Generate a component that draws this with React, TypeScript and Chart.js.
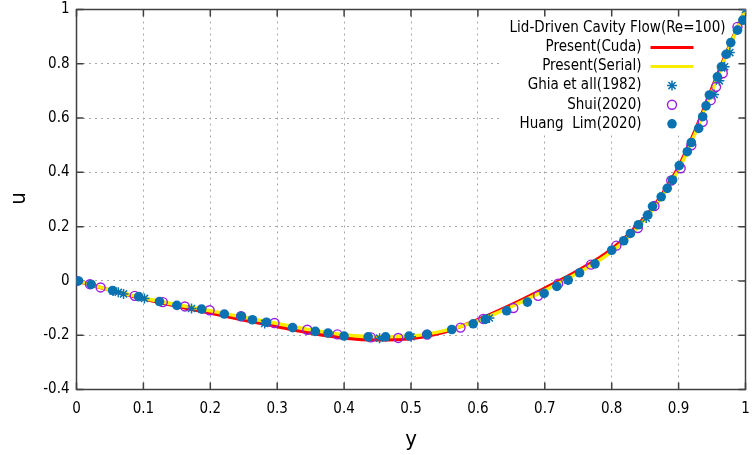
import React, { useEffect, useRef } from 'react';
import { Chart, registerables } from 'chart.js';

Chart.register(...registerables);

// ---- data ----
const lineY = [0, 0.025, 0.05, 0.075, 0.1, 0.15, 0.2, 0.25, 0.3, 0.35, 0.4, 0.45, 0.5, 0.55, 0.6, 0.65, 0.7, 0.75, 0.8, 0.85, 0.875, 0.9, 0.925, 0.95, 0.975, 1];
const cudaU = [0, -0.017, -0.034, -0.05, -0.066, -0.093, -0.118, -0.144, -0.168, -0.192, -0.21, -0.217, -0.212, -0.188, -0.143, -0.088, -0.027, 0.038, 0.117, 0.236, 0.318, 0.42, 0.555, 0.71, 0.86, 1.0];
const serialU = [0, -0.016, -0.033, -0.048, -0.063, -0.088, -0.11, -0.134, -0.157, -0.18, -0.198, -0.206, -0.203, -0.183, -0.147, -0.095, -0.035, 0.03, 0.108, 0.228, 0.31, 0.41, 0.545, 0.7, 0.855, 1.0];

const ghiaY = [1.0, 0.9766, 0.9688, 0.9609, 0.9531, 0.8516, 0.7344, 0.6172, 0.5, 0.4531, 0.2813, 0.1719, 0.1016, 0.0703, 0.0625, 0.0547, 0.0];
const ghiaU = [1.0, 0.84123, 0.78871, 0.73722, 0.68717, 0.23151, 0.00332, -0.13641, -0.20581, -0.2109, -0.15662, -0.1015, -0.06434, -0.04775, -0.04192, -0.03717, 0.0];

const shuiY = [0, 0.02, 0.036, 0.087, 0.129, 0.162, 0.199, 0.246, 0.296, 0.345, 0.39, 0.44, 0.481, 0.524, 0.574, 0.608, 0.653, 0.69, 0.72, 0.769, 0.807, 0.839, 0.864, 0.889, 0.903, 0.919, 0.936, 0.948, 0.956, 0.966, 0.988];
const shuiU = [0, -0.012, -0.024, -0.055, -0.078, -0.094, -0.108, -0.13, -0.155, -0.18, -0.197, -0.208, -0.21, -0.198, -0.172, -0.14, -0.1, -0.055, -0.01, 0.06, 0.13, 0.195, 0.276, 0.37, 0.415, 0.5, 0.586, 0.666, 0.715, 0.765, 0.936];

const huangY = [0.003, 0.022, 0.054, 0.093, 0.124, 0.15, 0.187, 0.221, 0.246, 0.263, 0.284, 0.323, 0.357, 0.376, 0.4, 0.436, 0.462, 0.497, 0.524, 0.561, 0.593, 0.611, 0.643, 0.674, 0.699, 0.718, 0.735, 0.752, 0.775, 0.8, 0.818, 0.828, 0.84, 0.854, 0.861, 0.874, 0.883, 0.891, 0.901, 0.913, 0.919, 0.93, 0.936, 0.941, 0.946, 0.958, 0.964, 0.971, 0.978, 0.988, 0.996];
const huangU = [0, -0.013, -0.035, -0.058, -0.076, -0.09, -0.104, -0.122, -0.13, -0.143, -0.152, -0.172, -0.186, -0.192, -0.203, -0.206, -0.206, -0.203, -0.197, -0.179, -0.158, -0.142, -0.11, -0.078, -0.046, -0.02, 0.003, 0.03, 0.063, 0.113, 0.148, 0.175, 0.207, 0.243, 0.275, 0.31, 0.341, 0.372, 0.425, 0.476, 0.51, 0.562, 0.605, 0.645, 0.685, 0.752, 0.789, 0.835, 0.878, 0.924, 0.961];

const xTicks = [0, 0.1, 0.2, 0.3, 0.4, 0.5, 0.6, 0.7, 0.8, 0.9, 1];
const xTickLabels = ['0', '0.1', '0.2', '0.3', '0.4', '0.5', '0.6', '0.7', '0.8', '0.9', '1'];
const yTicks = [-0.4, -0.2, 0, 0.2, 0.4, 0.6, 0.8, 1];
const yTickLabels = ['-0.4', '-0.2', '0', '0.2', '0.4', '0.6', '0.8', '1'];

const keyTitle = 'Lid-Driven Cavity Flow(Re=100)';
const seriesNames = ['Present(Cuda)', 'Present(Serial)', 'Ghia et all(1982)', 'Shui(2020)', 'Huang  Lim(2020)'];
const xTitle = 'y';
const yTitle = 'u';

// ---- styles ----
const RED = '#ff0000';
const YELLOW = '#f8ec00';
const BLUE = '#0a72b0';
const PURPLE = '#9a1ee0';
const FONT = '"DejaVu Sans Condensed", "Liberation Sans", sans-serif';

const pts = (xs: number[], ys: number[]) => xs.map((x, i) => ({ x, y: ys[i] }));

function drawStar(ctx: CanvasRenderingContext2D, x: number, y: number, r: number) {
  ctx.beginPath();
  ctx.moveTo(x - r, y); ctx.lineTo(x + r, y);
  ctx.moveTo(x, y - r); ctx.lineTo(x, y + r);
  const d = r * Math.SQRT1_2;
  ctx.moveTo(x - d, y - d); ctx.lineTo(x + d, y + d);
  ctx.moveTo(x - d, y + d); ctx.lineTo(x + d, y - d);
  ctx.stroke();
}

const gnuPlugin = {
  id: 'gnuKey',
  beforeDatasetsDraw(chart: any) {
    const { ctx, chartArea: ca, scales } = chart;
    const xs = scales.x, ys = scales.y;
    ctx.save();
    // key background
    ctx.fillStyle = '#ffffff';
    ctx.fillRect(ca.right - 245, ca.top + 6.5, 238, 118);
    // frame
    ctx.strokeStyle = '#404040';
    ctx.lineWidth = 1.5;
    ctx.strokeRect(ca.left, ca.top, ca.right - ca.left, ca.bottom - ca.top);
    // inward ticks
    ctx.beginPath();
    for (const v of xTicks) {
      const px = xs.getPixelForValue(v);
      ctx.moveTo(px, ca.bottom); ctx.lineTo(px, ca.bottom - 7);
      ctx.moveTo(px, ca.top); ctx.lineTo(px, ca.top + 7);
    }
    for (const v of yTicks) {
      const py = ys.getPixelForValue(v);
      ctx.moveTo(ca.left, py); ctx.lineTo(ca.left + 7, py);
      ctx.moveTo(ca.right, py); ctx.lineTo(ca.right - 7, py);
    }
    ctx.stroke();

    // key
    ctx.font = `15px ${FONT}`;
    ctx.fillStyle = '#000';
    ctx.textBaseline = 'middle';
    ctx.textAlign = 'right';
    const row0 = ca.top + 18.8;
    const step = 19.1;
    ctx.fillText(keyTitle, ca.right - 20, row0);
    const textR = ca.right - 104;
    const sL = ca.right - 95, sR = ca.right - 52, sM = ca.right - 73.5;
    seriesNames.forEach((n, i) => {
      const y = row0 + step * (i + 1);
      ctx.fillStyle = '#000';
      ctx.fillText(n, textR, y);
    });
    // samples
    let y = row0 + step;
    ctx.lineWidth = 3;
    ctx.strokeStyle = RED;
    ctx.beginPath(); ctx.moveTo(sL, y); ctx.lineTo(sR, y); ctx.stroke();
    y += step;
    ctx.strokeStyle = YELLOW;
    ctx.beginPath(); ctx.moveTo(sL, y); ctx.lineTo(sR, y); ctx.stroke();
    y += step;
    ctx.strokeStyle = BLUE; ctx.lineWidth = 1.5;
    drawStar(ctx, sM, y, 5);
    y += step;
    ctx.strokeStyle = PURPLE; ctx.lineWidth = 1.4;
    ctx.beginPath(); ctx.arc(sM, y, 4.5, 0, Math.PI * 2); ctx.stroke();
    y += step;
    ctx.fillStyle = BLUE;
    ctx.beginPath(); ctx.arc(sM, y, 4.8, 0, Math.PI * 2); ctx.fill();
    ctx.restore();
  },
  afterDraw(chart: any) {
    const { ctx, chartArea: ca } = chart;
    ctx.save();
    ctx.font = `22px ${FONT}`;
    ctx.fillStyle = '#000';
    ctx.textAlign = 'center';
    ctx.textBaseline = 'alphabetic';
    ctx.fillText(xTitle, (ca.left + ca.right) / 2, 446);
    ctx.translate(25, (ca.top + ca.bottom) / 2 - 1);
    ctx.rotate(-Math.PI / 2);
    ctx.fillText(yTitle, 0, 0);
    ctx.restore();
  },
};

export default function App() {
  const ref = useRef<HTMLCanvasElement | null>(null);
  useEffect(() => {
    document.body.style.margin = '0';
    const canvas = ref.current;
    if (!canvas) return;
    const chart = new Chart(canvas, {
      type: 'scatter',
      data: {
        datasets: [
          {
            label: seriesNames[0], data: pts(lineY, cudaU), showLine: true, borderColor: RED,
            borderWidth: 3.5, pointRadius: 0, cubicInterpolationMode: 'monotone', order: 5,
          } as any,
          {
            label: seriesNames[1], data: pts(lineY, serialU), showLine: true, borderColor: YELLOW,
            borderWidth: 3.5, pointRadius: 0, cubicInterpolationMode: 'monotone', order: 4,
          } as any,
          {
            label: seriesNames[2], data: pts(ghiaY, ghiaU), pointStyle: 'star', pointRadius: 5,
            borderColor: BLUE, backgroundColor: BLUE, pointBorderWidth: 1.5, order: 3,
          } as any,
          {
            label: seriesNames[3], data: pts(shuiY, shuiU), pointStyle: 'circle', pointRadius: 4.5,
            borderColor: PURPLE, backgroundColor: 'rgba(0,0,0,0)', pointBorderWidth: 1.4, order: 2,
          } as any,
          {
            label: seriesNames[4], data: pts(huangY, huangU), pointStyle: 'circle', pointRadius: 4.8,
            borderColor: BLUE, backgroundColor: BLUE, pointBorderWidth: 0, order: 1,
          } as any,
        ],
      },
      options: {
        responsive: false,
        animation: false,
        events: [],
        layout: { padding: { top: 9.5, right: 4, bottom: 0, left: 0 } },
        plugins: { legend: { display: false }, tooltip: { enabled: false } },
        scales: {
          x: {
            type: 'linear', min: 0, max: 1,
            afterBuildTicks: (s: any) => { s.ticks = xTicks.map((v) => ({ value: v })); },
            afterFit: (s: any) => { s.height = 65.5; s.paddingLeft = 0; s.paddingRight = 0; },
            ticks: {
              callback: (_v: any, i: number) => xTickLabels[i],
              font: { family: FONT, size: 15 }, color: '#000', padding: 11, maxRotation: 0,
            },
            grid: { color: '#a8a8a8', lineWidth: 1, drawTicks: false },
            border: { display: false, dash: [2, 4] },
          },
          y: {
            type: 'linear', min: -0.4, max: 1,
            afterBuildTicks: (s: any) => { s.ticks = yTicks.map((v) => ({ value: v })); },
            afterFit: (s: any) => { s.width = 76.5; s.paddingTop = 0; s.paddingBottom = 0; },
            ticks: {
              callback: (_v: any, i: number) => yTickLabels[i],
              font: { family: FONT, size: 15 }, color: '#000', padding: 7,
            },
            grid: { color: '#a8a8a8', lineWidth: 1, drawTicks: false },
            border: { display: false, dash: [2, 4] },
          },
        },
      },
      plugins: [gnuPlugin],
    } as any);
    return () => chart.destroy();
  }, []);
  return <canvas ref={ref} width={752} height={455} style={{ display: 'block' }} />;
}
